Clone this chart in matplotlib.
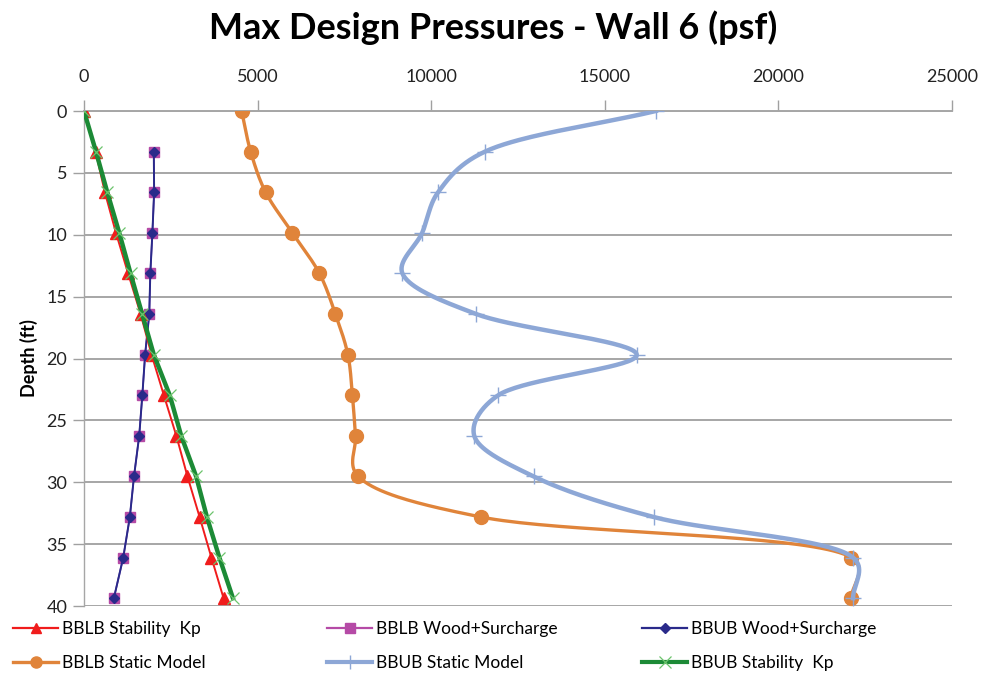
import numpy as np
import matplotlib
matplotlib.use("Agg")
import matplotlib.pyplot as plt
from matplotlib.lines import Line2D

plt.rcParams['font.family'] = ['Lato', 'DejaVu Sans']

# ---- data ----
depth = [0, 3.28, 6.56, 9.84, 13.12, 16.40, 19.69, 22.97, 26.25, 29.53, 32.81, 36.09, 39.37]
bblb_stability_kp = [0, 335, 600, 920, 1270, 1630, 1945, 2300, 2660, 2980, 3330, 3670, 4020]
bbub_stability_kp = [0, 345, 670, 1015, 1340, 1675, 2010, 2470, 2800, 3230, 3540, 3900, 4290]
wood_depth = [3.28, 6.56, 9.84, 13.12, 16.40, 19.69, 22.97, 26.25, 29.53, 32.81, 36.09, 39.37]
bblb_wood_surcharge = [2010, 2020, 1970, 1910, 1880, 1760, 1680, 1590, 1440, 1320, 1130, 860]
bbub_wood_surcharge = [2010, 2020, 1970, 1910, 1880, 1760, 1680, 1590, 1440, 1320, 1130, 860]
bblb_static_model = [4540, 4800, 5230, 6000, 6780, 7240, 7600, 7730, 7820, 7900, 11440, 22100, 22100]
bbub_static_model = [16470, 11550, 10200, 9740, 9170, 11290, 15920, 11930, 11240, 12950, 16410, 22150, 22150]

x_ticks = [0, 5000, 10000, 15000, 20000, 25000]
y_ticks = [0, 5, 10, 15, 20, 25, 30, 35, 40]

title = "Max Design Pressures - Wall 6 (psf)"
ylabel = "Depth (ft)"

XMAX, YMAX = 25000, 40
W_PX, H_PX = 952 - 84, 606 - 111


def smooth(xs, ys, n=40, alpha=0.35):
    """Catmull-Rom spline (Excel-like smoothing) through the points, in screen proportions."""
    P = np.column_stack([np.asarray(xs, float) / XMAX * W_PX,
                         np.asarray(ys, float) / YMAX * H_PX])
    P = np.vstack([2 * P[0] - P[1], P, 2 * P[-1] - P[-2]])
    out = []
    for i in range(1, len(P) - 2):
        p0, p1, p2, p3 = P[i - 1], P[i], P[i + 1], P[i + 2]
        t0 = 0.0
        t1 = t0 + max(np.linalg.norm(p1 - p0), 1e-6) ** alpha
        t2 = t1 + max(np.linalg.norm(p2 - p1), 1e-6) ** alpha
        t3 = t2 + max(np.linalg.norm(p3 - p2), 1e-6) ** alpha
        t = np.linspace(t1, t2, n, endpoint=False)[:, None]
        A1 = (t1 - t) / (t1 - t0) * p0 + (t - t0) / (t1 - t0) * p1
        A2 = (t2 - t) / (t2 - t1) * p1 + (t - t1) / (t2 - t1) * p2
        A3 = (t3 - t) / (t3 - t2) * p2 + (t - t2) / (t3 - t2) * p3
        B1 = (t2 - t) / (t2 - t0) * A1 + (t - t0) / (t2 - t0) * A2
        B2 = (t3 - t) / (t3 - t1) * A2 + (t - t1) / (t3 - t1) * A3
        C = (t2 - t) / (t2 - t1) * B1 + (t - t1) / (t2 - t1) * B2
        out.append(C)
    out.append(P[-2][None, :])
    R = np.vstack(out)
    return R[:, 0] / W_PX * XMAX, R[:, 1] / H_PX * YMAX


fig = plt.figure(figsize=(9.87, 6.8), dpi=100)
ax = fig.add_axes([84 / 987, 1 - 606 / 680, W_PX / 987, H_PX / 680])

c_red = '#F01C1C'
c_pink = '#B54AA6'
c_navy = '#2A2A8A'
c_orange = '#E0843A'
c_blue = '#8DA7D6'
c_green = '#1C8A36'
c_lgreen = '#6CC46C'

# static models (smoothed)
sx, sy = smooth(bblb_static_model, depth)
ax.plot(sx, sy, color=c_orange, lw=2.4, zorder=3)
ax.plot(bblb_static_model, depth, ls='none', marker='o', ms=10, color=c_orange, zorder=3)

bx, by = smooth(bbub_static_model, depth)
ax.plot(bx, by, color=c_blue, lw=3.2, zorder=4)
ax.plot(bbub_static_model, depth, ls='none', marker='+', ms=11, mew=1.0, color=c_blue, zorder=4)

# wood + surcharge
ax.plot(bblb_wood_surcharge, wood_depth, color='#7B3FB0', lw=1.2, marker='s', ms=7,
        mfc=c_pink, mec=c_pink, zorder=5)
ax.plot(bbub_wood_surcharge, wood_depth, color=c_navy, lw=1.4, marker='D', ms=5,
        mfc=c_navy, mec=c_navy, zorder=6)

# stability Kp
ax.plot(bblb_stability_kp, depth, color=c_red, lw=1.4, marker='^', ms=8,
        mfc=c_red, mec=c_red, zorder=7)
ax.plot(bbub_stability_kp, depth, color=c_green, lw=3.2, zorder=8)
ax.plot(bbub_stability_kp, depth, ls='none', marker='x', ms=9, mew=0.9, color=c_lgreen, zorder=9)

ax.set_xlim(0, XMAX)
ax.set_ylim(YMAX, 0)
ax.set_xticks(x_ticks)
ax.set_yticks(y_ticks)
ax.xaxis.tick_top()
ax.set_xticklabels([str(v) for v in x_ticks])
ax.set_yticklabels([str(v) for v in y_ticks])
ax.tick_params(axis='x', which='both', direction='out', length=8, width=1, color='#A0A0A0',
               labelsize=13, labelcolor='#222222', pad=11)
ax.tick_params(axis='y', which='both', direction='out', length=8, width=1, color='#A0A0A0',
               labelsize=13, labelcolor='#222222', pad=4)
ax.grid(axis='y', color='#A6A6A6', lw=1.4, zorder=0)
ax.set_axisbelow(True)
for s in ['right', 'bottom']:
    ax.spines[s].set_visible(False)
ax.spines['top'].set_color('#A6A6A6')
ax.spines['top'].set_linewidth(1.4)
ax.spines['left'].set_color('#A6A6A6')
ax.spines['left'].set_linewidth(1.0)

ax.set_ylabel(ylabel, fontsize=13, fontweight='bold', labelpad=6)

fig.text(0.50, 1 - 28 / 680, title, ha='center', va='center', fontsize=26, fontweight='bold')

# legend, three columns of two rows
def h(color, marker, ms, mfc=None, mec=None, lw=2.0, mew=1.0):
    return Line2D([0], [0], color=color, lw=lw, marker=marker, ms=ms,
                  mfc=mfc if mfc else color, mec=mec if mec else color, mew=mew)

cols = [
    ([h(c_red, '^', 7, lw=1.6), h(c_orange, 'o', 8, lw=2.4)],
     ["BBLB Stability  Kp", "BBLB Static Model"], 13),
    ([h(c_pink, 's', 7, lw=1.6), h(c_blue, '+', 10, lw=3.0)],
     ["BBLB Wood+Surcharge", "BBUB Static Model"], 327),
    ([h(c_navy, 'D', 5, lw=1.6), h(c_green, 'x', 9, mec=c_lgreen, lw=3.0, mew=0.9)],
     ["BBUB Wood+Surcharge", "BBUB Stability  Kp"], 642),
]
for handles, labels, x0 in cols:
    fig.legend(handles, labels, loc='upper left', bbox_to_anchor=(x0 / 987, 1 - 621 / 680),
               frameon=False, fontsize=12.5, handlelength=2.6, handletextpad=0.2,
               labelspacing=1.05, borderpad=0, borderaxespad=0)

fig.savefig('out.png', dpi=100)
